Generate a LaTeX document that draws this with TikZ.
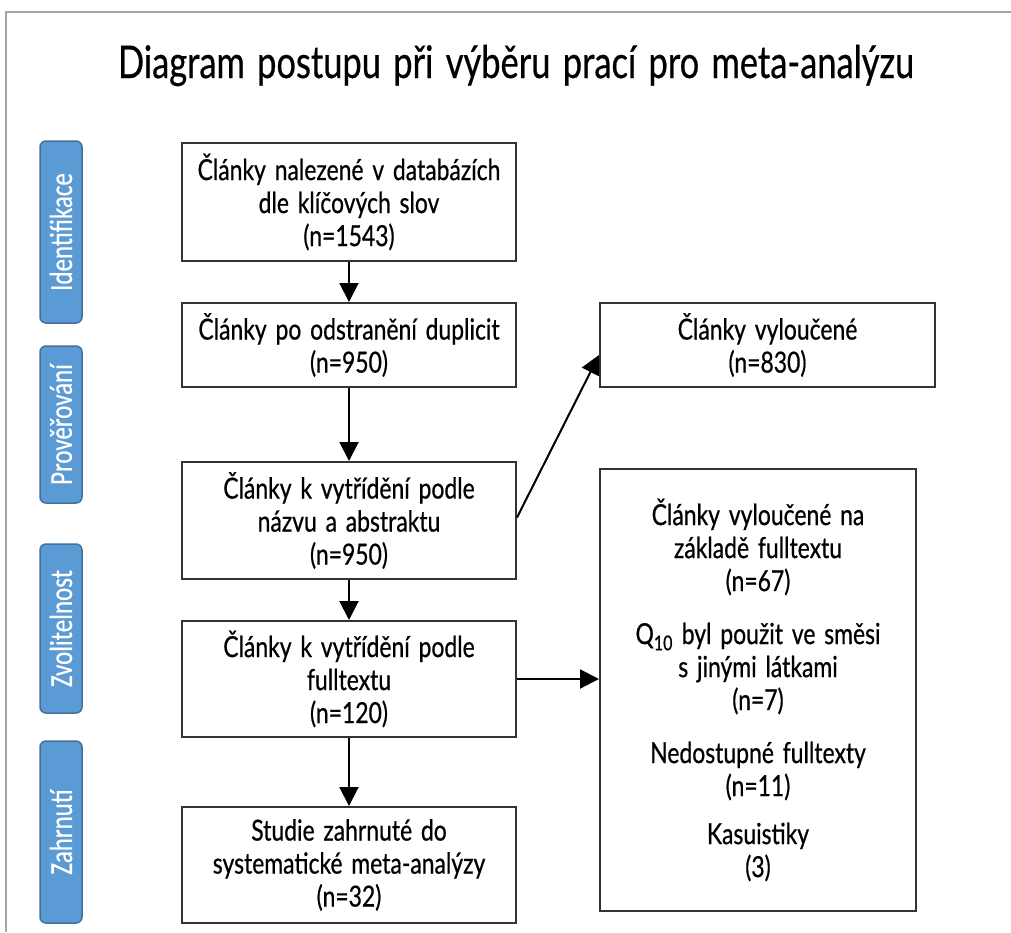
\documentclass[tikz,border=0pt]{standalone}
\usepackage{fontspec}
\setmainfont{Lato}[FakeStretch=0.79, FakeBold=0.6, WordSpace=1.5]
\newfontfamily\titlefont{Lato}[FakeStretch=0.765, FakeBold=0.5, WordSpace=1.4]
\newfontfamily\sidefont{Carlito}[FakeStretch=0.78, FakeBold=0.4]
\usetikzlibrary{arrows.meta}
\definecolor{sideblue}{HTML}{5B9BD5}
\definecolor{sideedge}{HTML}{41719C}
\definecolor{boxedge}{HTML}{333333}
\definecolor{framegray}{HTML}{A6A6A6}
\tikzset{
  flowbox/.style={draw=boxedge, line width=2pt, fill=white, align=center, inner sep=2pt,
    font=\fontsize{29}{33}\selectfont},
  sidebox/.style={draw=sideedge, line width=1.5pt, fill=sideblue, rounded corners=6pt,
    rotate=90, text=white, inner sep=0pt, minimum height=42pt,
    font=\sidefont\fontsize{32}{34}\selectfont},
  flowarrow/.style={draw=black, line width=2pt, -{Triangle[length=19pt,width=19pt]}},
}
\begin{document}
\begin{tikzpicture}[x=1pt,y=-1pt]
\useasboundingbox (0,0) rectangle (1011,932);
\fill[white] (0,0) rectangle (1011,932);
% frame
\draw[framegray, line width=2.5pt] (6,932) -- (6,12) -- (1011,12);
% title
\node[anchor=base, font=\titlefont\fontsize{45}{50}\selectfont] (title) at (516,78) {Diagram postupu při výběru prací pro meta-analýzu};
% side labels
\node[sidebox, minimum width=182pt] (s1) at (61,232) {Identifikace};
\node[sidebox, minimum width=157pt] (s2) at (61,424.5) {Prověřování};
\node[sidebox, minimum width=169pt] (s3) at (61,628.5) {Zvolitelnost};
\node[sidebox, minimum width=182pt] (s4) at (61,832) {Zahrnutí};
% main boxes
\node[flowbox, minimum width=334pt, minimum height=118pt] (b1) at (349,202) {Články nalezené v databázích\\dle klíčových slov\\(n=1543)};
\node[flowbox, minimum width=334pt, minimum height=84pt] (b2) at (349,345) {Články po odstranění duplicit\\(n=950)};
\node[flowbox, minimum width=334pt, minimum height=117pt] (b3) at (349,520.5) {Články k vytřídění podle\\názvu a abstraktu\\(n=950)};
\node[flowbox, minimum width=334pt, minimum height=116pt] (b4) at (349,679) {Články k vytřídění podle\\fulltextu\\(n=120)};
\node[flowbox, minimum width=334pt, minimum height=116pt] (b5) at (349,865) {Studie zahrnuté do\\systematické meta-analýzy\\(n=32)};
% right boxes
\node[flowbox, minimum width=335pt, minimum height=84pt] (r1) at (767.5,345) {Články vyloučené\\(n=830)};
\node[flowbox, minimum width=316pt, minimum height=442pt] (r2) at (758,690) {Články vyloučené na\\základě fulltextu\\(n=67)\\[20pt]Q\textsubscript{10} byl použit ve směsi\\s jinými látkami\\(n=7)\\[20pt]Nedostupné fulltexty\\(n=11)\\[15pt]Kasuistiky\\(3)};
% arrows
\draw[flowarrow] (b1.south) -- (b2.north);
\draw[flowarrow] (b2.south) -- (b3.north);
\draw[flowarrow] (b3.south) -- (b4.north);
\draw[flowarrow] (b4.south) -- (b5.north);
\draw[flowarrow] ([yshift=3pt]b3.east) -- ([yshift=-10pt]r1.west);
\draw[flowarrow] (b4.east) -- (b4.east -| r2.west);
\end{tikzpicture}
\end{document}
